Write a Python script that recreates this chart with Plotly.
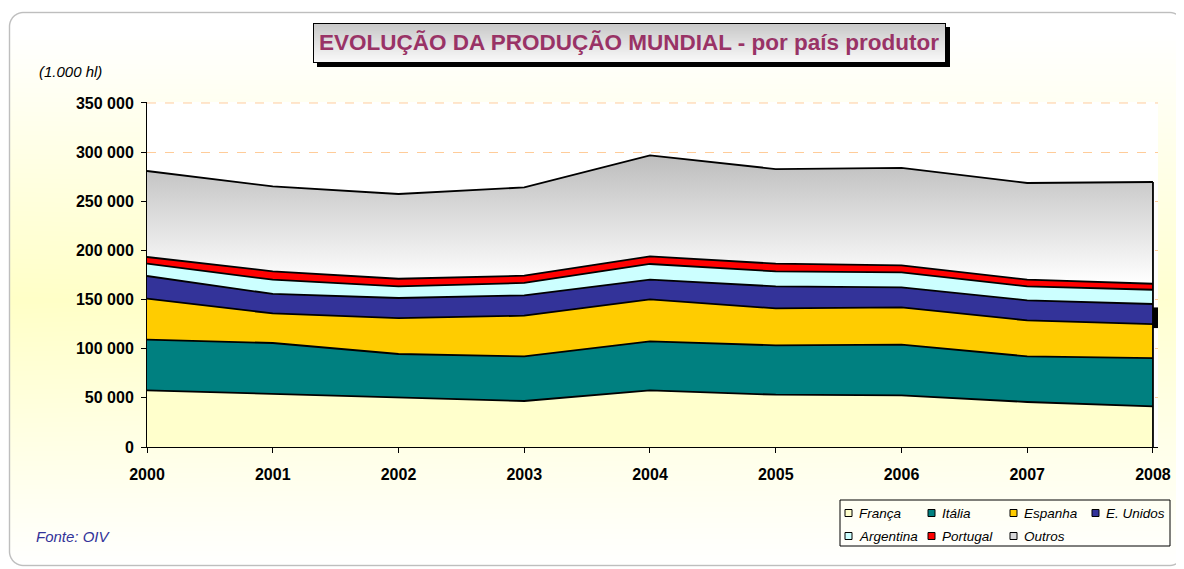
import base64, struct, zlib
import numpy as np
import plotly.graph_objects as go

# ---------------- data (1.000 hl) ----------------
years = [2000, 2001, 2002, 2003, 2004, 2005, 2006, 2007, 2008]
franca    = [57600, 53900, 49800, 46800, 57600, 53200, 52500, 45800, 41300]
italia    = [51600, 51900, 44800, 45400, 49800, 50200, 51600, 46400, 49200]
espanha   = [41700, 30100, 36600, 41400, 42800, 37600, 38000, 36600, 34600]
e_unidos  = [23100, 19800, 20400, 20700, 20000, 22400, 20300, 20400, 20400]
argentina = [12500, 14500, 11800, 12600, 16000, 15300, 15300, 14200, 14500]
portugal  = [6800, 8500, 7800, 7400, 7700, 7800, 7100, 6800, 6100]
outros    = [87500, 86400, 86200, 89800, 102800, 96300, 99100, 98400, 103500]

series_names = ["França", "Itália", "Espanha", "E. Unidos", "Argentina", "Portugal", "Outros"]
series_vals = [franca, italia, espanha, e_unidos, argentina, portugal, outros]
series_colors = ["#FFFFCC", "#008080", "#FFCC00", "#333399", "#CCFFFF", "#FF0000", "#DDDDDD"]

y_tickvals = [0, 50000, 100000, 150000, 200000, 250000, 300000, 350000]
y_ticktext = ["0", "50 000", "100 000", "150 000", "200 000", "250 000", "300 000", "350 000"]

title_text = "EVOLUÇÃO DA PRODUÇÃO MUNDIAL - por país produtor"
unit_text = "(1.000 hl)"
source_text = "Fonte: OIV"

# ---------------- geometry ----------------
# the page body has an 8px margin, so the figure is drawn 8px smaller and
# every position below is given in window pixels, then shifted by OFF.
OFF = 8
W, H = 1184 - OFF, 569 - OFF
ML, MR, MT, MB = 139, 26, 94, 122
PW, PH = W - ML - MR, H - MT - MB
FONT = "Liberation Sans, Arial, sans-serif"


def PX(x):
    return (x - OFF - ML) / PW


def PY(y):
    return 1 - (y - OFF - MT) / PH


# ---------------- background picture (frame + title box) ----------------
def make_background():
    yy, xx = np.mgrid[0:H, 0:W].astype(float)
    yy += OFF
    xx += OFF
    img = np.full((H, W, 3), 255.0)
    d = 56 * np.clip(1 - np.abs(yy - 300) / 265, 0, 1)
    d *= 0.82 + 0.18 * (1 - xx / 1184)
    x0, y0, x1, y1, r = 9, 12, 1183, 565, 14
    cx, cy = (x0 + x1) / 2, (y0 + y1) / 2
    hw, hh = (x1 - x0) / 2, (y1 - y0) / 2
    qx = np.abs(xx - cx) - (hw - r)
    qy = np.abs(yy - cy) - (hh - r)
    dist = np.hypot(np.maximum(qx, 0), np.maximum(qy, 0)) + np.minimum(np.maximum(qx, qy), 0) - r
    inside = dist < 0
    img[..., 2] = np.where(inside, 255 - d, 255)
    a = np.clip(1.2 - np.abs(dist), 0, 1)[..., None]
    img = img * (1 - a) + np.array([190, 190, 190]) * a
    o = OFF
    img[27 - o:67 - o, 317 - o:950 - o] = 0
    bx0, by0, bx1, by1 = 313 - o, 23 - o, 946 - o, 63 - o
    g = np.linspace(0, 1, by1 - by0)[:, None]
    col = 200 + (250 - 200) * g
    img[by0:by1, bx0:bx1, :] = col[:, :, None] * np.ones((1, bx1 - bx0, 3))
    img[by0:by1, bx0] = 0
    img[by0:by1, bx1 - 1] = 0
    img[by0, bx0:bx1] = 0
    img[by1 - 1, bx0:bx1] = 0
    arr = np.clip(img, 0, 255).astype(np.uint8)
    raw = b"".join(b"\x00" + arr[i].tobytes() for i in range(H))

    def chunk(tag, data):
        c = struct.pack(">I", len(data)) + tag + data
        return c + struct.pack(">I", zlib.crc32(tag + data) & 0xFFFFFFFF)

    png = b"\x89PNG\r\n\x1a\n" + chunk(b"IHDR", struct.pack(">IIBBBBB", W, H, 8, 2, 0, 0, 0))
    png += chunk(b"IDAT", zlib.compress(raw, 9)) + chunk(b"IEND", b"")
    return "data:image/png;base64," + base64.b64encode(png).decode()


fig = go.Figure()

cum = np.cumsum(np.array(series_vals), axis=0)
for name, vals, color in zip(series_names, series_vals, series_colors):
    kw = dict(fillcolor=color)
    if name == "Outros":
        kw = dict(fillgradient=dict(type="vertical",
                                    colorscale=[[0, "#FFFFFF"], [1, "#BDBDBD"]],
                                    start=float(cum[5].min()), stop=float(cum[6].max())))
    fig.add_trace(go.Scatter(x=years, y=vals, name=name, stackgroup="one",
                             mode="lines", line=dict(color="black", width=1.8),
                             showlegend=False, hoverinfo="skip", **kw))

# right-hand edge of the stacked area
fig.add_trace(go.Scatter(x=[years[-1], years[-1]], y=[0, float(cum[-1][-1])], mode="lines",
                         line=dict(color="black", width=1.8), showlegend=False, hoverinfo="skip"))

shapes = [
    dict(type="rect", xref="paper", yref="paper", x0=0, x1=1, y0=0, y1=1,
         fillcolor="white", line=dict(width=0), layer="below"),
    # top gridline (plotly drops it so close to the edge)
    dict(type="line", xref="paper", yref="y", x0=0, x1=1, y0=y_tickvals[-1], y1=y_tickvals[-1],
         line=dict(color="#FFCC99", width=1, dash="dash"), layer="above"),
    dict(type="rect", xref="x", yref="y", x0=2008, x1=2008.04, y0=121000, y1=142000,
         fillcolor="black", line=dict(width=0), layer="above"),
    dict(type="rect", xref="paper", yref="paper", x0=PX(840), x1=PX(1170), y0=PY(546), y1=PY(500),
         fillcolor="rgba(0,0,0,0)", line=dict(color="black", width=1)),
]

annotations = [
    dict(text="<b>" + title_text + "</b>", xref="paper", yref="paper", x=PX(629), y=PY(42.5),
         xanchor="center", yanchor="middle", showarrow=False,
         font=dict(family=FONT, size=22.5, color="#993366")),
    dict(text="<i>" + unit_text + "</i>", xref="paper", yref="paper", x=PX(37), y=PY(71),
         xanchor="left", yanchor="middle", showarrow=False,
         font=dict(family=FONT, size=15, color="black")),
    dict(text="<i>" + source_text + "</i>", xref="paper", yref="paper", x=PX(34), y=PY(536),
         xanchor="left", yanchor="middle", showarrow=False,
         font=dict(family=FONT, size=15, color="#333399")),
]

leg_pos = [(845, 513), (928, 513), (1010, 513), (1092, 513), (845, 536), (928, 536), (1010, 536)]
leg_colors = ["#FFFFCC", "#008080", "#FFCC00", "#333399", "#CCFFFF", "#FF0000", "#D8D8D8"]
for name, (lx, ly), c in zip(series_names, leg_pos, leg_colors):
    shapes.append(dict(type="rect", xref="paper", yref="paper", x0=PX(lx), x1=PX(lx + 7),
                       y0=PY(ly + 3.5), y1=PY(ly - 3.5), fillcolor=c,
                       line=dict(color="black", width=1)))
    annotations.append(dict(text="<i>" + name + "</i>", xref="paper", yref="paper",
                            x=PX(lx + 12), y=PY(ly), xanchor="left", yanchor="middle",
                            showarrow=False, font=dict(family=FONT, size=13.5, color="black")))

fig.update_layout(
    width=W, height=H,
    margin=dict(l=ML, r=MR, t=MT, b=MB, pad=0),
    paper_bgcolor="white", plot_bgcolor="white",
    showlegend=False,
    images=[dict(source=make_background(), xref="paper", yref="paper",
                 x=-ML / PW, y=1 + MT / PH, sizex=W / PW, sizey=H / PH,
                 xanchor="left", yanchor="top", sizing="stretch", layer="below")],
    shapes=shapes, annotations=annotations,
    xaxis=dict(range=[2000, 2008.04], tickvals=years, ticktext=[str(y) for y in years],
               showgrid=False, zeroline=False, showline=True, linecolor="black", linewidth=1,
               ticks="outside", ticklen=5, tickcolor="black", ticklabelstandoff=8,
               tickfont=dict(family=FONT, size=16, color="black", weight="bold")),
    yaxis=dict(range=[0, 351000], tickvals=y_tickvals, ticktext=y_ticktext,
               showgrid=True, gridcolor="#FFCC99", griddash="dash", gridwidth=1,
               zeroline=False, showline=True, linecolor="black", linewidth=1,
               ticks="outside", ticklen=5, tickcolor="black", ticklabelstandoff=4,
               tickfont=dict(family=FONT, size=16, color="black", weight="bold")),
)

fig.write_html("out.html")
